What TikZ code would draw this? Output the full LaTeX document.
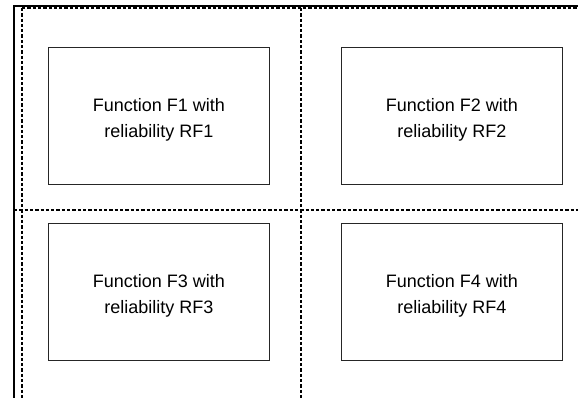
\documentclass[tikz,border=0pt]{standalone}
\usepackage{fontspec}
\setmainfont{Liberation Sans}
\begin{document}
\begin{tikzpicture}[x=1pt,y=-1pt,
  fnbox/.style={draw=black!85, line width=0.9pt, minimum width=221pt, minimum height=137pt,
    anchor=north west, inner sep=0pt},
  fntext/.style={inner sep=0pt, align=center, font=\fontsize{18}{26}\selectfont},
  frameline/.style={line width=1.3pt, line cap=rect},
  gridline/.style={line width=1.1pt, dash pattern=on 3.3pt off 2pt}]
\useasboundingbox (0,0) rectangle (578,398);
% outer frame
\coordinate (fl) at (14,398);
\coordinate (ft) at (14,6);
\coordinate (fr) at (578,6);
\draw[frameline] (fl) -- (ft) -- (fr);
% grid lines
\coordinate (ta) at (22,8);   \coordinate (tb) at (578,8);
\coordinate (va1) at (22,8);  \coordinate (va2) at (22,398);
\coordinate (vb1) at (301,8); \coordinate (vb2) at (301,398);
\coordinate (h1) at (14,210); \coordinate (h2) at (578,210);
\draw[gridline] (ta) -- (tb);
\draw[gridline] (va1) -- (va2);
\draw[gridline] (vb1) -- (vb2);
\draw[gridline] (h1) -- (h2);
% function boxes
\node[fnbox] (f1) at (48,47)  {};
\node[fnbox] (f2) at (341,47) {};
\node[fnbox] (f3) at (48,223) {};
\node[fnbox] (f4) at (341,223){};
% box captions
\node[fntext] (t1) at ([yshift=-4pt]f1.center) {Function F1 with\\reliability RF1};
\node[fntext] (t2) at ([yshift=-4pt]f2.center) {Function F2 with\\reliability RF2};
\node[fntext] (t3) at ([yshift=-4pt]f3.center) {Function F3 with\\reliability RF3};
\node[fntext] (t4) at ([yshift=-4pt]f4.center) {Function F4 with\\reliability RF4};
\end{tikzpicture}
\end{document}
